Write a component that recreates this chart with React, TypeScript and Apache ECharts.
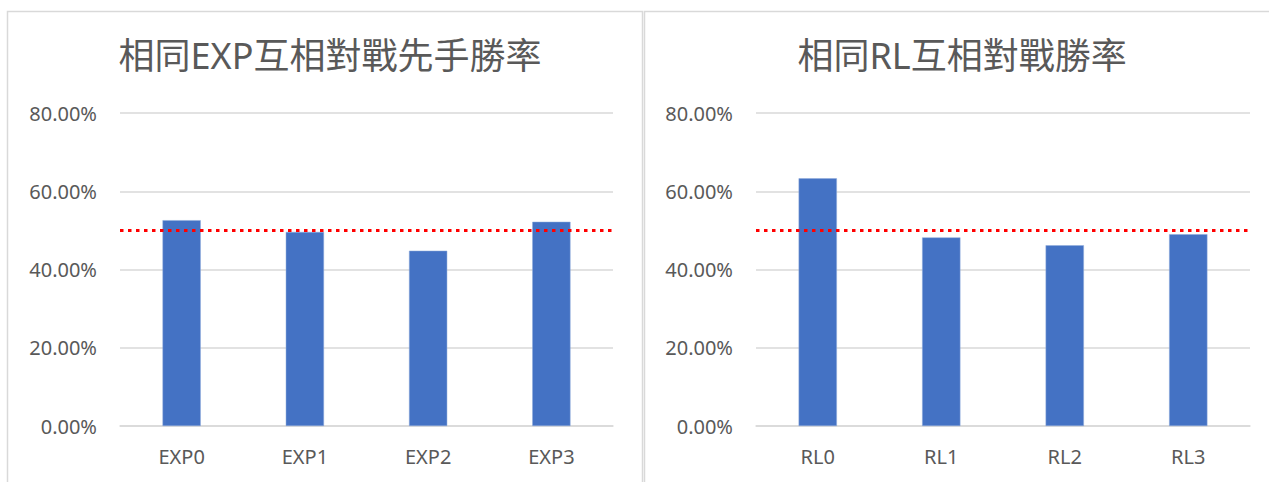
import React, { useEffect, useRef } from "react";
import * as echarts from "echarts";

const leftTitle = "相同EXP互相對戰先手勝率";
const rightTitle = "相同RL互相對戰勝率";
const expCategories = ["EXP0", "EXP1", "EXP2", "EXP3"];
const expValues = [0.526, 0.496, 0.448, 0.522];
const rlCategories = ["RL0", "RL1", "RL2", "RL3"];
const rlValues = [0.633, 0.482, 0.462, 0.49];
const referenceLine = 0.5;
const yMin = 0;
const yMax = 0.8;
const yInterval = 0.2;

const FONT = "'Noto Sans', 'Noto Sans CJK TC', sans-serif";
const TEXT = "#595959";
const GRID = "#d9d9d9";

function axisPair(gridIndex: number, cats: string[]) {
  return {
    x: {
      type: "category",
      gridIndex,
      data: cats,
      axisLine: { show: true, lineStyle: { color: GRID, width: 1.5 } },
      axisTick: { show: false },
      axisLabel: { color: TEXT, fontSize: 20, fontFamily: FONT, margin: 20 },
    },
    y: {
      type: "value",
      gridIndex,
      min: yMin,
      max: yMax,
      interval: yInterval,
      axisLine: { show: false },
      axisTick: { show: false },
      splitLine: { lineStyle: { color: GRID, width: 1.5 } },
      axisLabel: {
        color: TEXT,
        fontSize: 20,
        fontFamily: FONT,
        margin: 23,
        formatter: (v: number) => (v * 100).toFixed(2) + "%",
      },
    },
  };
}

function barSeries(idx: number, values: number[]) {
  return {
    type: "bar",
    xAxisIndex: idx,
    yAxisIndex: idx,
    data: values,
    barWidth: "31%",
    itemStyle: { color: "#4472C4", borderColor: "#8eaadb", borderWidth: 0.5 },
    markLine: {
      silent: true,
      symbol: ["none", "none"],
      label: { show: false },
      lineStyle: { color: "#FF0000", type: [3.5, 4.5], width: 3, opacity: 1 },
      data: [{ yAxis: referenceLine }],
    },
  };
}

export default function App() {
  const ref = useRef<HTMLDivElement>(null);
  useEffect(() => {
    if (!ref.current) return;
    const chart = echarts.init(ref.current, null, { renderer: "svg" });
    const a = axisPair(0, expCategories);
    const b = axisPair(1, rlCategories);
    chart.setOption({
      animation: false,
      backgroundColor: "#ffffff",
      title: [
        {
          text: leftTitle,
          left: 325,
          textAlign: "center",
          top: 32,
          textStyle: { color: TEXT, fontSize: 36, fontWeight: "normal", fontFamily: FONT },
        },
        {
          text: rightTitle,
          left: 957,
          textAlign: "center",
          top: 32,
          textStyle: { color: TEXT, fontSize: 36, fontWeight: "normal", fontFamily: FONT },
        },
      ],
      graphic: [
        {
          type: "rect",
          shape: { x: 7.5, y: 11.5, width: 635, height: 520 },
          style: { fill: "none", stroke: GRID, lineWidth: 1.5 },
          z: -1,
        },
        {
          type: "rect",
          shape: { x: 644.5, y: 11.5, width: 660, height: 520 },
          style: { fill: "none", stroke: GRID, lineWidth: 1.5 },
          z: -1,
        },
      ],
      grid: [
        { left: 120, right: 656, top: 113, bottom: 56 },
        { left: 756, right: 19, top: 113, bottom: 56 },
      ],
      xAxis: [a.x, b.x],
      yAxis: [a.y, b.y],
      series: [barSeries(0, expValues), barSeries(1, rlValues)],
    });
    return () => chart.dispose();
  }, []);
  return (
    <div
      ref={ref}
      style={{ position: "absolute", left: 0, top: 0, width: 1269, height: 482 }}
    />
  );
}
